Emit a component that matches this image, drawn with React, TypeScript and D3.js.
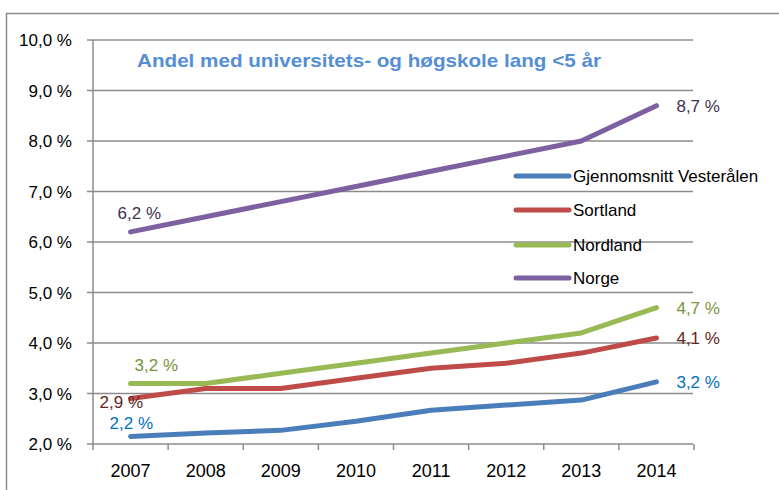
import React, { useEffect, useRef } from 'react';
import * as d3 from 'd3';

// data
const years = ['2007', '2008', '2009', '2010', '2011', '2012', '2013', '2014'];
const vesteraalen = [2.15, 2.22, 2.27, 2.45, 2.67, 2.77, 2.87, 3.23];
const sortland = [2.9, 3.1, 3.1, 3.3, 3.5, 3.6, 3.8, 4.1];
const nordland = [3.2, 3.2, 3.4, 3.6, 3.8, 4.0, 4.2, 4.7];
const norge = [6.2, 6.5, 6.8, 7.1, 7.4, 7.7, 8.0, 8.7];
const seriesNames = ['Gjennomsnitt Vesterålen', 'Sortland', 'Nordland', 'Norge'];
const yTicks = [2, 3, 4, 5, 6, 7, 8, 9, 10];
const firstLabels = ['2,2 %', '2,9 %', '3,2 %', '6,2 %'];
const lastLabels = ['3,2 %', '4,1 %', '4,7 %', '8,7 %'];

export default function App() {
  const ref = useRef<SVGSVGElement>(null);

  /* SIZE */
  const WIDTH = 779;
  const HEIGHT = 490;
  const FONT = '"Liberation Sans", Arial, sans-serif';
  const FS = 17;
  /* COLOR */
  const LINE_COLORS = ['#4a7ebb', '#be4b48', '#98b954', '#7d60a0'];
  const LABEL_COLORS = ['#0070c0', '#632523', '#77933c', '#403152'];
  const GRID = '#8c8c8c';

  function draw() {
    const svg = d3.select(ref.current);
    svg.selectAll('*').remove();

    const x = d3.scaleBand().domain(years).range([93, 694]).padding(0);
    const y = d3.scaleLinear().domain([2, 10]).range([444, 40]);
    const cx = (yr: string) => (x(yr) as number) + x.bandwidth() / 2;

    // outer frame
    svg.append('rect')
      .attr('x', 6.5).attr('y', 13.5)
      .attr('width', 900).attr('height', 600)
      .attr('fill', '#fff')
      .attr('stroke', GRID).attr('stroke-width', 1.5);

    // gridlines + y labels
    const gy = svg.append('g');
    yTicks.forEach(t => {
      gy.append('line')
        .attr('x1', 87).attr('x2', 693)
        .attr('y1', y(t)).attr('y2', y(t))
        .attr('stroke', GRID).attr('stroke-width', 1.5);
      gy.append('text')
        .attr('x', 72).attr('y', y(t) + 6)
        .attr('text-anchor', 'end')
        .attr('font-family', FONT).attr('font-size', FS)
        .attr('fill', '#000')
        .text(t.toFixed(1).replace('.', ',') + ' %');
    });

    // axes
    svg.append('line')
      .attr('x1', 93).attr('x2', 93).attr('y1', y(10)).attr('y2', y(2))
      .attr('stroke', GRID).attr('stroke-width', 1.5);
    const xTickPos = years.map(yr => x(yr) as number).concat([694]);
    xTickPos.forEach(p => {
      svg.append('line')
        .attr('x1', p).attr('x2', p).attr('y1', y(2)).attr('y2', y(2) + 6)
        .attr('stroke', GRID).attr('stroke-width', 1.5);
    });
    years.forEach(yr => {
      svg.append('text')
        .attr('x', cx(yr)).attr('y', 477)
        .attr('text-anchor', 'middle')
        .attr('font-family', FONT).attr('font-size', 18)
        .text(yr);
    });

    // title
    svg.append('text')
      .attr('x', 137).attr('y', 67)
      .attr('font-family', FONT).attr('font-size', 18.5).attr('font-weight', 'bold')
      .attr('fill', '#558ed5')
      .attr('textLength', 464).attr('lengthAdjust', 'spacingAndGlyphs')
      .text('Andel med universitets- og høgskole lang <5 år');

    // lines
    const allSeries = [vesteraalen, sortland, nordland, norge];
    const line = d3.line<number>()
      .x((_, i) => cx(years[i]))
      .y(d => y(d));
    allSeries.forEach((s, i) => {
      svg.append('path')
        .attr('d', line(s))
        .attr('fill', 'none')
        .attr('stroke', LINE_COLORS[i])
        .attr('stroke-width', 5)
        .attr('stroke-linecap', 'round')
        .attr('stroke-linejoin', 'round');
    });

    // data labels
    const firstOffsets = [[-21, -7], [-31, 9], [4, -12], [-13, -13]];
    allSeries.forEach((s, i) => {
      svg.append('text')
        .attr('x', cx(years[0]) + firstOffsets[i][0])
        .attr('y', y(s[0]) + firstOffsets[i][1])
        .attr('font-family', FONT).attr('font-size', FS)
        .attr('fill', LABEL_COLORS[i])
        .text(firstLabels[i]);
      svg.append('text')
        .attr('x', cx(years[7]) + 20)
        .attr('y', y(s[7]) + 6)
        .attr('font-family', FONT).attr('font-size', FS)
        .attr('fill', LABEL_COLORS[i])
        .text(lastLabels[i]);
    });

    // legend
    const legY = [176, 210, 245, 278];
    seriesNames.forEach((n, i) => {
      svg.append('line')
        .attr('x1', 516).attr('x2', 569)
        .attr('y1', legY[i]).attr('y2', legY[i])
        .attr('stroke', LINE_COLORS[i]).attr('stroke-width', 5)
        .attr('stroke-linecap', 'round');
      svg.append('text')
        .attr('x', 573).attr('y', legY[i] + 6)
        .attr('font-family', FONT).attr('font-size', FS)
        .text(n);
    });
  }

  useEffect(() => {
    draw();
  }, []);

  return (
    <svg ref={ref} width={WIDTH} height={HEIGHT}
      style={{ position: 'absolute', left: 0, top: 0, display: 'block' }} />
  );
}
